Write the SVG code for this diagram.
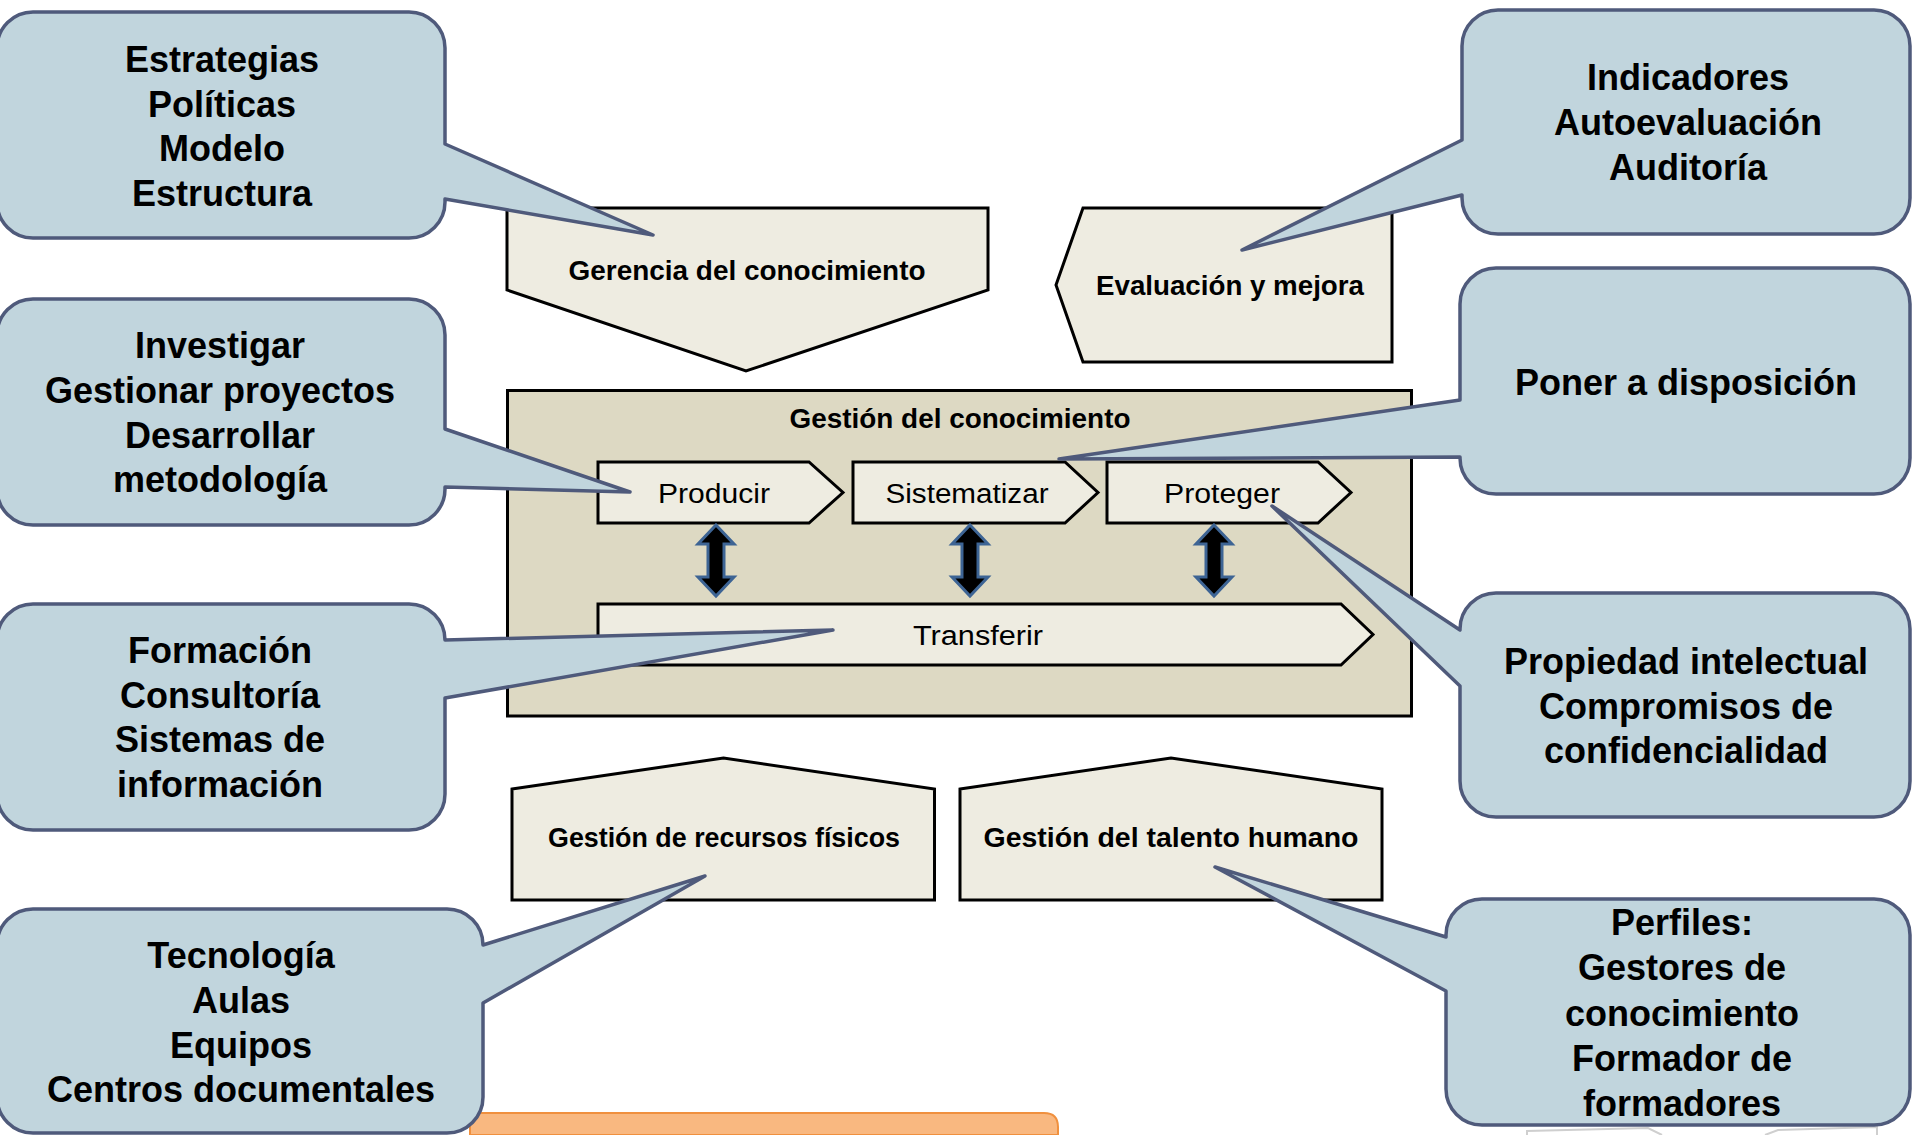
<svg xmlns="http://www.w3.org/2000/svg" width="1913" height="1135" viewBox="0 0 1913 1135">
<style>
.node{fill:#eeece1;stroke:#000;stroke-width:3;stroke-linejoin:miter}
.frame{fill:#ddd9c3;stroke:#000;stroke-width:3}
.call{fill:#c1d5dd;stroke:#4f5a7b;stroke-width:3.5;stroke-linejoin:round}
.ct{font-family:"Liberation Sans",Arial,sans-serif;font-weight:bold;font-size:36px;fill:#000;text-anchor:middle}
.nt{font-family:"Liberation Sans",Arial,sans-serif;font-weight:bold;font-size:27px;fill:#000;text-anchor:middle}
.pt{font-family:"Liberation Sans",Arial,sans-serif;font-size:27px;fill:#000;text-anchor:middle}
.dbl{fill:#000;stroke:#3d6494;stroke-width:3;stroke-linejoin:miter}
</style>
<rect width="1913" height="1135" fill="#fff"/>
<g id="orange-bar"><path d="M470,1135 V1113 H1044 Q1058,1113 1058,1127 V1135 Z" fill="#f9b880" stroke="#f0903e" stroke-width="2"/></g>
<g id="gray-shape"><polyline points="1527,1135 1527,1131 1648,1128 1662,1135" fill="none" stroke="#cfcfcf" stroke-width="2"/><polyline points="1765,1135 1778,1130 1877,1127 1877,1135" fill="none" stroke="#cfcfcf" stroke-width="2"/></g>

<g id="gerencia"><polygon class="node" points="507,208 988,208 988,290 746,371 507,290"/><text class="nt" x="747" y="280" textLength="357" lengthAdjust="spacingAndGlyphs">Gerencia del conocimiento</text></g>
<g id="evaluacion"><polygon class="node" points="1083,208 1392,208 1392,362 1083,362 1056,285"/><text class="nt" x="1230" y="295" textLength="268" lengthAdjust="spacingAndGlyphs">Evaluación y mejora</text></g>
<g id="gestion-conocimiento"><rect class="frame" x="507.5" y="390.5" width="904" height="325.5"/><text class="nt" x="960" y="428" textLength="341" lengthAdjust="spacingAndGlyphs">Gestión del conocimiento</text></g>
<g id="producir"><polygon class="node" points="598,462 809,462 843,492.5 809,523 598,523"/><text class="pt" x="714" y="503" textLength="112" lengthAdjust="spacingAndGlyphs">Producir</text></g>
<g id="sistematizar"><polygon class="node" points="853,462 1065,462 1098,492.5 1065,523 853,523"/><text class="pt" x="967" y="503" textLength="163" lengthAdjust="spacingAndGlyphs">Sistematizar</text></g>
<g id="proteger"><polygon class="node" points="1107,462 1318,462 1351,492.5 1318,523 1107,523"/><text class="pt" x="1222" y="503" textLength="116" lengthAdjust="spacingAndGlyphs">Proteger</text></g>
<g id="transferir"><polygon class="node" points="598,604 1341,604 1373,634.5 1341,665 598,665"/><text class="pt" x="978" y="645" textLength="130" lengthAdjust="spacingAndGlyphs">Transferir</text></g>
<g id="recursos"><polygon class="node" points="512,789 723.5,758 934.5,789 934.5,900 512,900"/><text class="nt" x="724" y="847" textLength="352" lengthAdjust="spacingAndGlyphs">Gestión de recursos físicos</text></g>
<g id="talento"><polygon class="node" points="960,789 1171,758 1382,789 1382,900 960,900"/><text class="nt" x="1171" y="847" textLength="375" lengthAdjust="spacingAndGlyphs">Gestión del talento humano</text></g>

<g id="connectors">
<polygon class="dbl" points="716,525 734,544 724,544 724,577 734,577 716,596 698,577 708,577 708,544 698,544"/>
<polygon class="dbl" points="970,525 988,544 978,544 978,577 988,577 970,596 952,577 962,577 962,544 952,544"/>
<polygon class="dbl" points="1214,525 1232,544 1222,544 1222,577 1232,577 1214,596 1196,577 1206,577 1206,544 1196,544"/>
</g>

<g id="callout-estrategias"><path class="call" d="M33,12 H409 A36 36 0 0 1 445,48 V144 L653,235 L445,199 V202 A36 36 0 0 1 409,238 H33 A36 36 0 0 1 -3,202 V48 A36 36 0 0 1 33,12 Z"/>
<text class="ct" x="222" y="72">Estrategias</text><text class="ct" x="222" y="117">Políticas</text><text class="ct" x="222" y="161">Modelo</text><text class="ct" x="222" y="206">Estructura</text></g>
<g id="callout-investigar"><path class="call" d="M33,299 H409 A36 36 0 0 1 445,335 V429 L630,492 L445,487 V489 A36 36 0 0 1 409,525 H33 A36 36 0 0 1 -3,489 V335 A36 36 0 0 1 33,299 Z"/>
<text class="ct" x="220" y="358">Investigar</text><text class="ct" x="220" y="403">Gestionar proyectos</text><text class="ct" x="220" y="448">Desarrollar</text><text class="ct" x="220" y="492">metodología</text></g>
<g id="callout-formacion"><path class="call" d="M33,604 H409 A36 36 0 0 1 445,640 L833,630 L445,698 V794 A36 36 0 0 1 409,830 H33 A36 36 0 0 1 -3,794 V640 A36 36 0 0 1 33,604 Z"/>
<text class="ct" x="220" y="663">Formación</text><text class="ct" x="220" y="708">Consultoría</text><text class="ct" x="220" y="752">Sistemas de</text><text class="ct" x="220" y="797">información</text></g>
<g id="callout-tecnologia"><path class="call" d="M33,909 H447 A36 36 0 0 1 483,945 L705,876 L483,1003 V1097 A36 36 0 0 1 447,1133 H33 A36 36 0 0 1 -3,1097 V945 A36 36 0 0 1 33,909 Z"/>
<text class="ct" x="241" y="968">Tecnología</text><text class="ct" x="241" y="1013">Aulas</text><text class="ct" x="241" y="1058">Equipos</text><text class="ct" x="241" y="1102">Centros documentales</text></g>
<g id="callout-indicadores"><path class="call" d="M1498,10 H1874 A36 36 0 0 1 1910,46 V198 A36 36 0 0 1 1874,234 H1498 A36 36 0 0 1 1462,198 V195 L1242,250 L1462,140 V46 A36 36 0 0 1 1498,10 Z"/>
<text class="ct" x="1688" y="90">Indicadores</text><text class="ct" x="1688" y="135">Autoevaluación</text><text class="ct" x="1688" y="180">Auditoría</text></g>
<g id="callout-poner"><path class="call" d="M1496,268 H1874 A36 36 0 0 1 1910,304 V458 A36 36 0 0 1 1874,494 H1496 A36 36 0 0 1 1460,458 V457 L1059,459 L1460,400 V304 A36 36 0 0 1 1496,268 Z"/>
<text class="ct" x="1686" y="395">Poner a disposición</text></g>
<g id="callout-propiedad"><path class="call" d="M1496,593 H1874 A36 36 0 0 1 1910,629 V781 A36 36 0 0 1 1874,817 H1496 A36 36 0 0 1 1460,781 V686 L1272,506 L1460,630 V629 A36 36 0 0 1 1496,593 Z"/>
<text class="ct" x="1686" y="674">Propiedad intelectual</text><text class="ct" x="1686" y="719">Compromisos de</text><text class="ct" x="1686" y="763">confidencialidad</text></g>
<g id="callout-perfiles"><path class="call" d="M1482,899 H1874 A36 36 0 0 1 1910,935 V1089 A36 36 0 0 1 1874,1125 H1482 A36 36 0 0 1 1446,1089 V991 L1215,867 L1446,937 V935 A36 36 0 0 1 1482,899 Z"/>
<text class="ct" x="1682" y="935">Perfiles:</text><text class="ct" x="1682" y="980">Gestores de</text><text class="ct" x="1682" y="1026">conocimiento</text><text class="ct" x="1682" y="1071">Formador de</text><text class="ct" x="1682" y="1116">formadores</text></g>
</svg>
